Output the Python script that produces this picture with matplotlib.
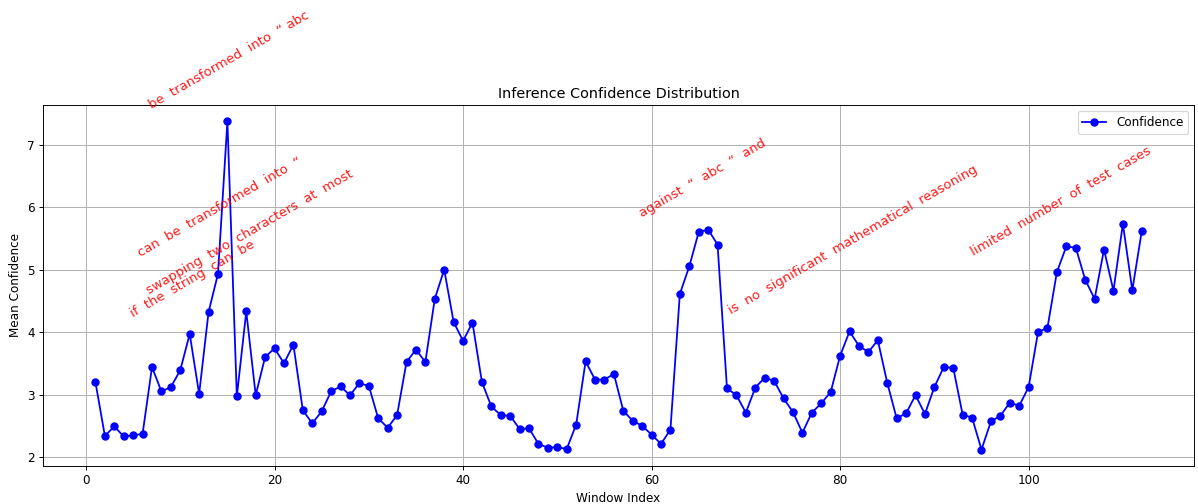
import matplotlib
matplotlib.use("Agg")
import matplotlib.pyplot as plt

# mean confidence per sliding window
window_index = list(range(1, 113))
confidence = [
    3.20, 2.34, 2.49, 2.33, 2.35, 2.37, 3.44, 3.05, 3.12, 3.39,
    3.97, 3.01, 4.32, 4.93, 7.37, 2.97, 4.33, 2.99, 3.60, 3.74,
    3.50, 3.80, 2.75, 2.54, 2.73, 3.05, 3.13, 2.99, 3.18, 3.14,
    2.62, 2.47, 2.67, 3.52, 3.72, 3.52, 4.53, 5.00, 4.16, 3.86,
    4.15, 3.20, 2.81, 2.67, 2.66, 2.45, 2.46, 2.21, 2.15, 2.16,
    2.13, 2.52, 3.53, 3.24, 3.24, 3.33, 2.74, 2.58, 2.50, 2.36,
    2.21, 2.44, 4.61, 5.05, 5.60, 5.64, 5.40, 3.10, 2.99, 2.71,
    3.11, 3.27, 3.22, 2.94, 2.72, 2.39, 2.71, 2.86, 3.04, 3.62,
    4.01, 3.78, 3.68, 3.87, 3.19, 2.62, 2.70, 2.99, 2.69, 3.12,
    3.44, 3.43, 2.68, 2.63, 2.12, 2.57, 2.66, 2.87, 2.82, 3.12,
    4.00, 4.07, 4.96, 5.37, 5.35, 4.84, 4.53, 5.32, 4.66, 5.73,
    4.67, 5.61,
]

# text fragments placed near windows of interest
note_texts = [
    ' be  transformed  into  \u201c abc',
    ' can  be  transformed  into  \u201c',
    ' swapping  two  characters  at  most',
    ' if  the  string  can  be',
    ' against  \u201c  abc  \u201c  and',
    ' is  no  significant  mathematical  reasoning',
    ' limited  number  of  test  cases',
]
note_x = [15.0, 14.0, 17.2, 11.1, 65.2, 81.2, 103.2]
note_y = [8.34, 5.98, 5.58, 4.83, 6.45, 5.46, 6.07]

DPI = 86
fig, ax = plt.subplots(figsize=(1198 / DPI, 504 / DPI), dpi=DPI)
fig.subplots_adjust(left=0.036, right=0.9967, bottom=0.0754, top=0.7917)

ax.plot(window_index, confidence, marker='o', color='blue', label='Confidence')

for txt, x, y in zip(note_texts, note_x, note_y):
    ax.text(x, y, txt, color='red', fontsize=11, rotation=30,
            ha='center', va='center', alpha=0.9)

ax.set_title('Inference Confidence Distribution')
ax.set_xlabel('Window Index')
ax.set_ylabel('Mean Confidence')
ax.legend(loc='upper right')
ax.grid(True)

fig.savefig('out.png', dpi=DPI)
